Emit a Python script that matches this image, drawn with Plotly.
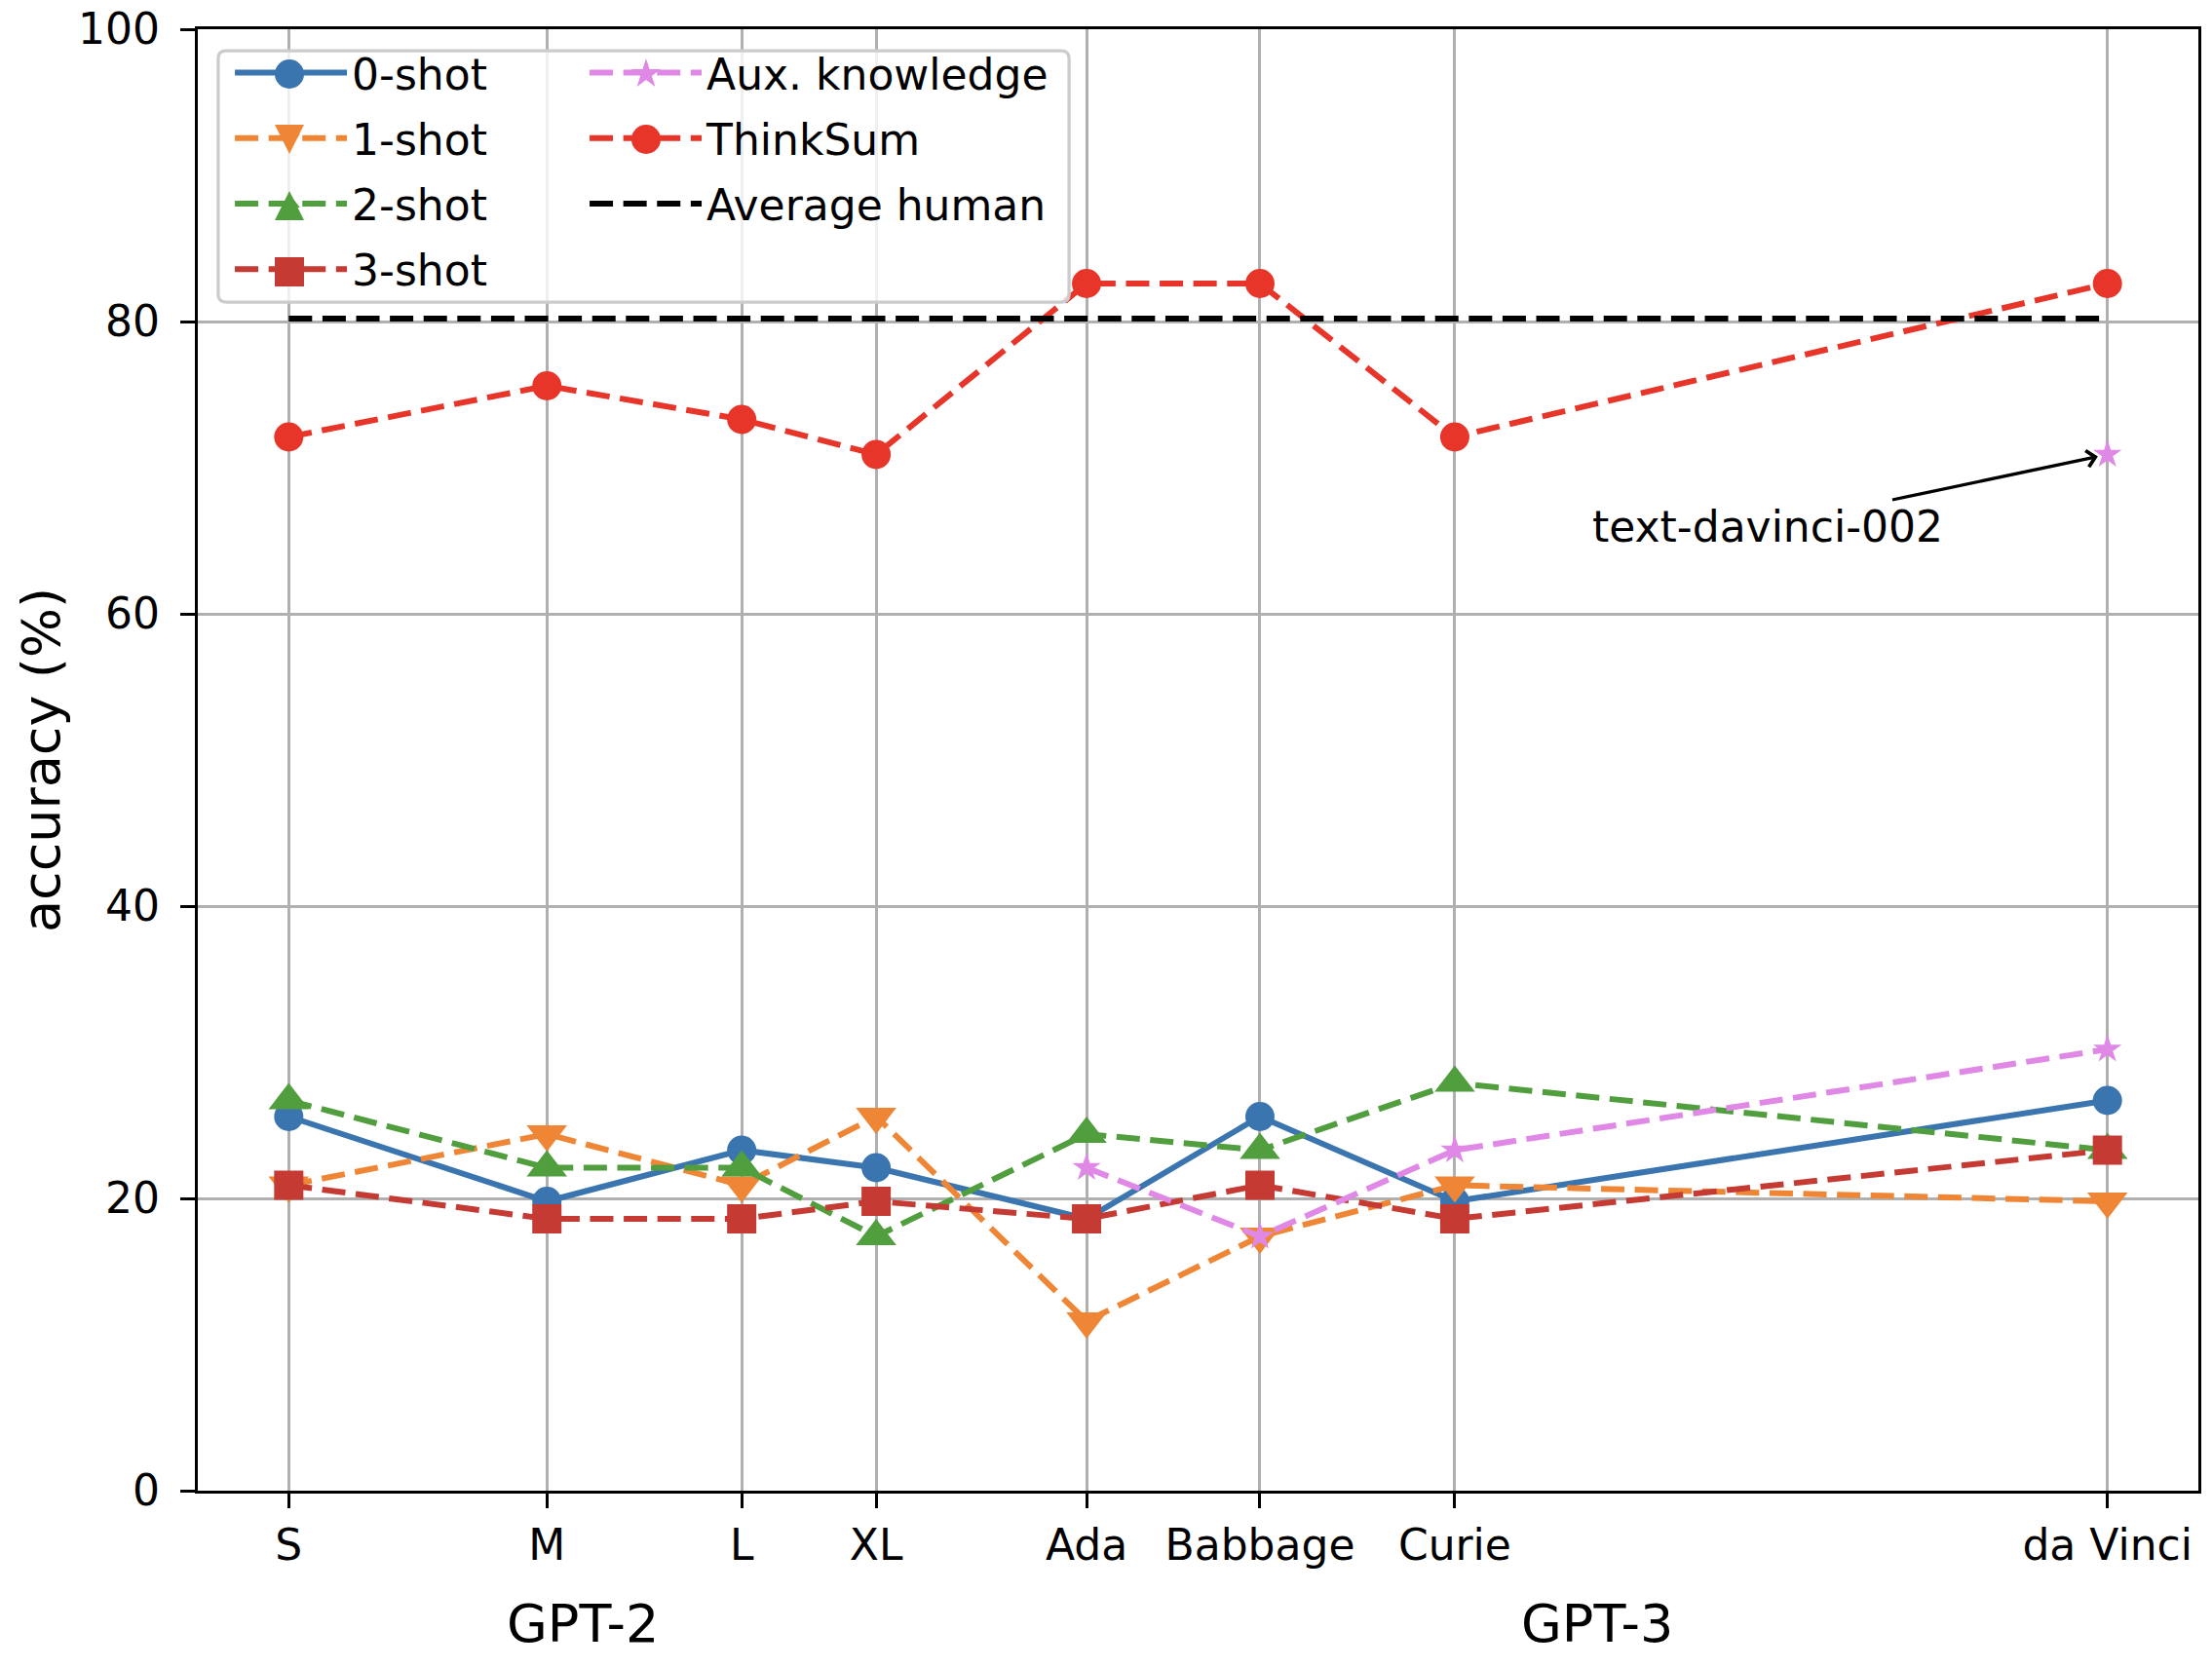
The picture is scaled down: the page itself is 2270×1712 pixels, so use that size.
import math
import plotly.graph_objects as go

# ---------------- data ----------------
models = ["S", "M", "L", "XL", "Ada", "Babbage", "Curie", "da Vinci"]
# relative model-scale position of each model on the x axis
model_scale = [0.0, 2.65, 4.65, 6.03, 8.19, 9.97, 11.97, 18.67]
family_of_model = ["GPT-2", "GPT-2", "GPT-2", "GPT-2", "GPT-3", "GPT-3", "GPT-3", "GPT-3"]
families = ["GPT-2", "GPT-3"]

acc_0shot = [25.6, 19.8, 23.3, 22.1, 18.6, 25.6, 19.8, 26.7]
acc_1shot = [20.9, 24.4, 20.9, 25.6, 11.6, 17.4, 20.9, 19.8]
acc_2shot = [26.7, 22.1, 22.1, 17.4, 24.4, 23.3, 27.9, 23.3]
acc_3shot = [20.9, 18.6, 18.6, 19.8, 18.6, 20.9, 18.6, 23.3]
aux_models = ["Ada", "Babbage", "Curie", "da Vinci"]
acc_aux = [22.1, 17.4, 23.3, 30.2]
acc_thinksum = [72.1, 75.6, 73.3, 70.9, 82.6, 82.6, 72.1, 82.6]
acc_human = 80.2
td002_label = "text-davinci-002"
acc_td002 = 70.9

# ---------------- styling ----------------
FONT = "DejaVu Sans"
C_BLUE = "#3b75af"
C_ORANGE = "#ef8636"
C_GREEN = "#519e3e"
C_RED = "#c53a32"
C_PINK = "#e088e5"
C_TS = "#e8352a"
LW = 6
DASH = "24px,10.6px"

# figure geometry (px)
FIG_W, FIG_H = 2270, 1712
M_L, M_R, M_T, M_B = 203, 14, 30, 182
PW = FIG_W - M_L - M_R
PH = FIG_H - M_T - M_B


def px_x(p):
    return (p - M_L) / PW


def px_y(p):
    return 1 - (p - M_T) / PH


xpos = dict(zip(models, model_scale))
aux_x = [xpos[m] for m in aux_models]

fig = go.Figure()


def add(name, x, y, color, symbol, size, dash, legend, rank):
    fig.add_trace(go.Scatter(
        x=x, y=y, name=name, mode="lines+markers",
        line=dict(color=color, width=LW, dash=dash),
        marker=dict(color=color, symbol=symbol, size=size, line=dict(width=0)),
        legend=legend, legendrank=rank, legendgroup=name,
    ))


add("0-shot", model_scale, acc_0shot, C_BLUE, "circle", 30, "solid", "legend", 1)
add("1-shot", model_scale, acc_1shot, C_ORANGE, "triangle-down", 36, DASH, "legend", 2)
add("2-shot", model_scale, acc_2shot, C_GREEN, "triangle-up", 36, DASH, "legend", 3)
add("3-shot", model_scale, acc_3shot, C_RED, "square", 30, DASH, "legend", 4)
add("Aux. knowledge", aux_x, acc_aux, C_PINK, "star", 22, DASH, "legend2", 1)
add("ThinkSum", model_scale, acc_thinksum, C_TS, "circle", 30, DASH, "legend2", 2)

fig.add_trace(go.Scatter(
    x=[model_scale[0], model_scale[-1]], y=[acc_human, acc_human],
    name="Average human", mode="lines",
    line=dict(color="black", width=LW, dash=DASH),
    legend="legend2", legendrank=3, legendgroup="Average human",
))

fig.add_trace(go.Scatter(
    x=[xpos["da Vinci"]], y=[acc_td002], mode="markers", showlegend=False,
    marker=dict(color=C_PINK, symbol="star", size=22, line=dict(width=0)),
))

# annotation with arrow
fig.add_annotation(
    x=xpos["da Vinci"], y=acc_td002, text=td002_label,
    ax=15.18, ay=66.0, axref="x", ayref="y", xref="x", yref="y",
    showarrow=True, arrowhead=4, arrowsize=1, arrowwidth=3.3, arrowcolor="black",
    standoff=10, font=dict(family=FONT, size=44, color="black"),
)

# family group labels under the axis
for fam in families:
    xs = [s for s, f in zip(model_scale, family_of_model) if f == fam]
    fig.add_annotation(
        x=(min(xs) + max(xs)) / 2, y=-0.0913, xref="x", yref="paper",
        text=fam, showarrow=False, yanchor="middle",
        font=dict(family=FONT, size=54, color="black"),
    )

# legend frame
x0, x1, y0, y1 = 0.0102, 0.4355, 0.8133, 0.9853
rx, ry = 0.0039, 0.0053
path = (f"M{x0+rx},{y1} L{x1-rx},{y1} Q{x1},{y1} {x1},{y1-ry} "
        f"L{x1},{y0+ry} Q{x1},{y0} {x1-rx},{y0} L{x0+rx},{y0} "
        f"Q{x0},{y0} {x0},{y0+ry} L{x0},{y1-ry} Q{x0},{y1} {x0+rx},{y1} Z")
fig.add_shape(type="path", path=path, xref="paper", yref="paper",
              line=dict(color="#cccccc", width=3.3),
              fillcolor="rgba(255,255,255,0.8)", layer="above")


# full-size legend glyphs (plotly caps legend marker size)
def glyph(kind, cx, cy, color, r=15):
    if kind in ("circle", "square"):
        fig.add_shape(type="circle" if kind == "circle" else "rect",
                      xref="paper", yref="paper",
                      x0=px_x(cx - r), x1=px_x(cx + r), y0=px_y(cy + r), y1=px_y(cy - r),
                      fillcolor=color, line=dict(width=0), layer="above")
        return
    if kind == "tri-down":
        pts = [(cx - r, cy - r), (cx + r, cy - r), (cx, cy + r)]
    elif kind == "tri-up":
        pts = [(cx - r, cy + r), (cx + r, cy + r), (cx, cy - r)]
    else:  # star
        pts = []
        for i in range(10):
            rr = r if i % 2 == 0 else r * 0.382
            a = -math.pi / 2 + i * math.pi / 5
            pts.append((cx + rr * math.cos(a), cy + rr * math.sin(a)))
    d = "M" + " L".join(f"{px_x(a):.5f},{px_y(b):.5f}" for a, b in pts) + " Z"
    fig.add_shape(type="path", path=d, xref="paper", yref="paper",
                  fillcolor=color, line=dict(width=0), layer="above")


rows = [76, 143, 211, 279]
col1_x, col2_x = 297, 663
glyph("circle", col1_x, rows[0], C_BLUE)
glyph("tri-down", col1_x, rows[1], C_ORANGE)
glyph("tri-up", col1_x, rows[2], C_GREEN)
glyph("square", col1_x, rows[3], C_RED)
glyph("star", col2_x, rows[0], C_PINK, r=16)
glyph("circle", col2_x, rows[1], C_TS)

pad = 0.05 * (max(model_scale) - min(model_scale))
axis_common = dict(
    showgrid=True, gridcolor="#b0b0b0", gridwidth=3.3,
    ticks="outside", ticklen=15, tickwidth=3.3, tickcolor="black",
    showline=True, linecolor="black", linewidth=3.3, mirror=True,
    zeroline=False, tickfont=dict(family=FONT, size=44, color="black"),
    ticklabeloverflow="allow", automargin=False,
)
fig.update_xaxes(range=[min(model_scale) - pad, max(model_scale) + pad],
                 tickmode="array", tickvals=model_scale, ticktext=models,
                 **axis_common)
fig.update_yaxes(range=[0, 100], tickmode="linear", tick0=0, dtick=20,
                 title=dict(text="accuracy (%)", font=dict(family=FONT, size=54, color="black"),
                            standoff=2),
                 ticklabelstandoff=12,
                 **axis_common)

leg_common = dict(
    bgcolor="rgba(0,0,0,0)", borderwidth=0, xanchor="left", yanchor="top",
    font=dict(family=FONT, size=44, color="black"), tracegroupgap=7,
    orientation="v", itemwidth=115,
)
fig.update_layout(
    width=FIG_W, height=FIG_H,
    margin=dict(l=M_L, r=M_R, t=M_T, b=M_B, pad=0, autoexpand=False),
    plot_bgcolor="white", paper_bgcolor="white",
    font=dict(family=FONT, size=44, color="black"),
    legend=dict(x=0.0161, y=0.9937, **leg_common),
    legend2=dict(x=0.1934, y=0.9937, **leg_common),
)

fig.write_html(
    "out.html",
    config={"displayModeBar": False},
    post_script="document.body.style.margin='0';document.body.style.overflow='hidden';",
)
